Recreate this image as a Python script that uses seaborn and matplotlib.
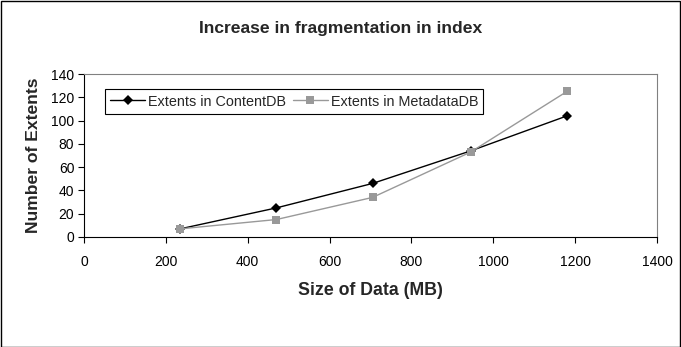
import matplotlib
matplotlib.use("Agg")
import matplotlib.pyplot as plt
import seaborn as sns
import pandas as pd

sizes_mb = [235, 470, 705, 945, 1180]
extents_content = [7, 25, 46, 74, 104]
extents_metadata = [7, 15, 34, 73, 125]
series_names = ["Extents in ContentDB", "Extents in MetadataDB"]
x_ticks = [0, 200, 400, 600, 800, 1000, 1200, 1400]
y_ticks = [0, 20, 40, 60, 80, 100, 120, 140]

df = pd.DataFrame({
    "size": sizes_mb * 2,
    "extents": extents_content + extents_metadata,
    "series": [series_names[0]] * len(sizes_mb) + [series_names[1]] * len(sizes_mb),
})

sns.set_theme(style="white")
plt.rcParams["font.family"] = ["Liberation Sans", "DejaVu Sans"]

fig = plt.figure(figsize=(6.81, 3.47), dpi=100)
ax = fig.add_axes([84 / 681, 1 - 237 / 347, (657 - 84) / 681, (237 - 74) / 347])

palette = {series_names[0]: "#000000", series_names[1]: "#999999"}
markers = {series_names[0]: "D", series_names[1]: "s"}
sizes_m = {series_names[0]: 5, series_names[1]: 6}
for name in series_names:
    sub = df[df["series"] == name]
    sns.lineplot(data=sub, x="size", y="extents", ax=ax, color=palette[name],
                 marker=markers[name], markersize=sizes_m[name], markeredgewidth=0,
                 linewidth=1.0, label=name)

ax.set_xlim(0, 1400)
ax.set_ylim(0, 140)
ax.set_xticks(x_ticks)
ax.set_yticks(y_ticks)
ax.tick_params(axis="both", labelsize=10, colors="black", length=4, width=0.8, direction="out", pad=3)
ax.tick_params(axis="x", pad=9)
ax.xaxis.set_ticks_position("bottom")
ax.yaxis.set_ticks_position("left")
for side in ["top", "right"]:
    ax.spines[side].set_color("#808080")
    ax.spines[side].set_linewidth(0.8)
for side in ["left", "bottom"]:
    ax.spines[side].set_color("black")
    ax.spines[side].set_linewidth(0.8)

ax.set_xlabel("Size of Data (MB)", fontsize=12.8, fontweight="bold", labelpad=9)
ax.set_ylabel("Number of Extents", fontsize=12.6, fontweight="bold", labelpad=7)
fig.text(0.5, 1 - 29 / 347, "Increase in fragmentation in index", ha="center", va="center",
         fontsize=12.6, fontweight="bold")

leg = ax.legend(loc="upper left", bbox_to_anchor=(0.037, 0.905), ncol=2, fontsize=10.4,
                frameon=True, fancybox=False, edgecolor="black", framealpha=1,
                handlelength=2.4, columnspacing=0.5, handletextpad=0.2,
                borderpad=0.35, borderaxespad=0)
leg.get_frame().set_linewidth(0.8)

border = plt.Rectangle((0.5 / 681, 0.5 / 347), 1 - 1.5 / 681, 1 - 1.5 / 347, transform=fig.transFigure,
                       fill=False, edgecolor="black", linewidth=1.0)
fig.add_artist(border)

fig.savefig("out.png", dpi=100)
